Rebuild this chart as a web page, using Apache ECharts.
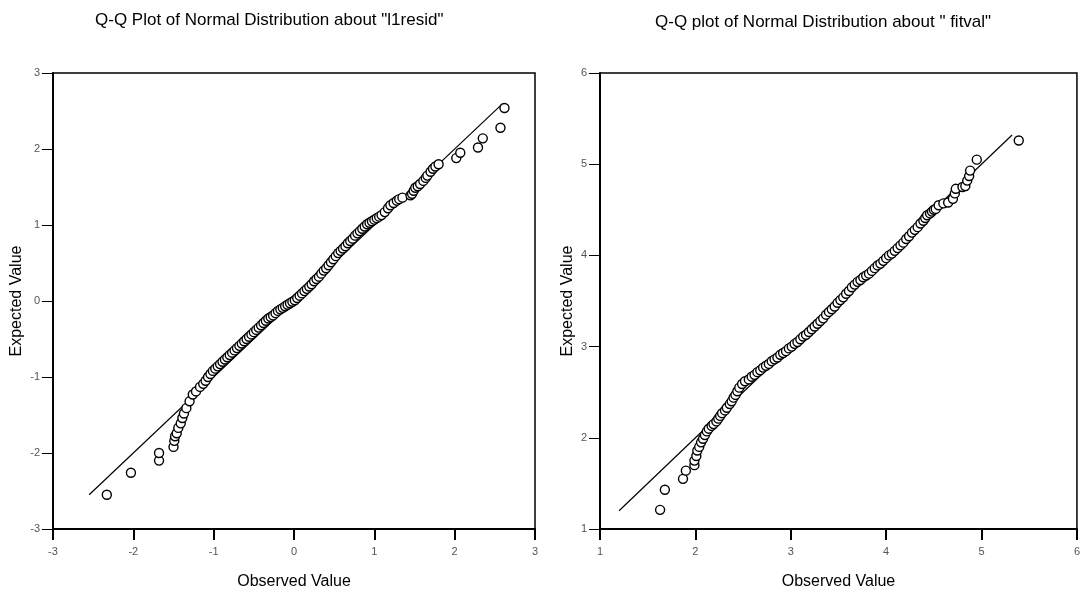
<!DOCTYPE html>
<html>
<head>
<meta charset="utf-8">
<script src="https://cdn.jsdelivr.net/npm/echarts@6/dist/echarts.min.js"></script>
<style>
  html, body { margin: 0; padding: 0; background: #fff; }
  #chart { width: 1083px; height: 595px; }
</style>
</head>
<body>
<div id="chart"></div>
<script>
// left panel: l1resid (observed / expected)
var residObs = [-2.33, -2.03, -1.68, -1.68, -1.50, -1.49, -1.48, -1.46, -1.44, -1.41, -1.39, -1.37, -1.34, -1.30,
  -1.26, -1.22, -1.17, -1.13,
  -1.10, -1.07, -1.04, -1.01, -0.98, -0.95, -0.92, -0.89, -0.86, -0.83,
  -0.80, -0.77, -0.74, -0.71, -0.68, -0.65, -0.62, -0.59, -0.56, -0.53,
  -0.50, -0.47, -0.44, -0.41, -0.38, -0.35, -0.32, -0.29, -0.26, -0.23,
  -0.20, -0.17, -0.14, -0.11, -0.08, -0.05, -0.02, 0.01, 0.04, 0.07,
  0.10, 0.13, 0.16, 0.19, 0.22, 0.25, 0.28, 0.31, 0.34, 0.37,
  0.40, 0.43, 0.46, 0.49, 0.52, 0.55, 0.58, 0.61, 0.64, 0.67,
  0.70, 0.73, 0.76, 0.79, 0.82, 0.85, 0.88, 0.91, 0.94, 0.97,
  1.00, 1.03, 1.06, 1.09,
  1.13, 1.17, 1.20, 1.24, 1.28, 1.31, 1.35, 1.45, 1.47, 1.49, 1.51, 1.54, 1.57, 1.61, 1.64, 1.66, 1.70, 1.73,
  1.76, 1.80, 2.02, 2.07, 2.29, 2.35, 2.57, 2.62];
var residExp = [-2.55, -2.26, -2.10, -2.00, -1.92, -1.84, -1.78, -1.74, -1.67, -1.61, -1.54, -1.48, -1.41, -1.32,
  -1.23, -1.19, -1.13, -1.09,
  -1.05, -1.00, -0.96, -0.92, -0.89, -0.86, -0.83, -0.80, -0.77, -0.74,
  -0.71, -0.68, -0.65, -0.62, -0.59, -0.56, -0.53, -0.50, -0.47, -0.44,
  -0.41, -0.38, -0.35, -0.32, -0.29, -0.26, -0.23, -0.21, -0.19, -0.16,
  -0.13, -0.11, -0.09, -0.07, -0.05, -0.03, -0.01, 0.01, 0.04, 0.07,
  0.10, 0.13, 0.16, 0.19, 0.22, 0.26, 0.29, 0.32, 0.36, 0.40,
  0.43, 0.47, 0.51, 0.55, 0.59, 0.63, 0.66, 0.69, 0.72, 0.76,
  0.79, 0.82, 0.86, 0.89, 0.92, 0.95, 0.98, 1.01, 1.03, 1.05,
  1.07, 1.09, 1.11, 1.13,
  1.17, 1.22, 1.26, 1.29, 1.32, 1.34, 1.36, 1.39, 1.41, 1.45, 1.49, 1.51, 1.54, 1.58, 1.62, 1.65, 1.70, 1.74,
  1.77, 1.80, 1.88, 1.95, 2.02, 2.14, 2.28, 2.54];
var residLine = [-2.55, 2.60];

// right panel: fitval
var fitObs = [1.63, 1.68, 1.87, 1.90, 1.99, 1.99, 2.01, 2.02, 2.04, 2.06, 2.08, 2.10, 2.12, 2.14, 2.17, 2.19,
  2.22, 2.24, 2.26, 2.28, 2.31, 2.33, 2.36, 2.38, 2.40, 2.42, 2.44, 2.46, 2.49, 2.52,
  2.56, 2.59, 2.62, 2.65, 2.68, 2.71, 2.74, 2.77, 2.80, 2.83,
  2.86, 2.89, 2.92, 2.95, 2.98, 3.01, 3.04, 3.07, 3.10, 3.13,
  3.16, 3.19, 3.22, 3.25, 3.28, 3.31, 3.34, 3.37, 3.40, 3.43,
  3.46, 3.49, 3.52, 3.55, 3.58, 3.61, 3.64, 3.67, 3.70, 3.73,
  3.76, 3.79, 3.82, 3.85, 3.88, 3.91, 3.94, 3.97, 4.00, 4.03,
  4.06, 4.09, 4.12, 4.15, 4.18, 4.21, 4.24, 4.27, 4.30, 4.33,
  4.36, 4.39, 4.41, 4.43, 4.46, 4.48, 4.50, 4.52, 4.55, 4.60,
  4.65, 4.70, 4.72, 4.73, 4.80, 4.83, 4.85, 4.87, 4.88, 4.95, 5.39];
var fitExp = [1.21, 1.43, 1.55, 1.64, 1.70, 1.75, 1.80, 1.86, 1.90, 1.95, 1.99, 2.03, 2.07, 2.10, 2.13, 2.15,
  2.18, 2.21, 2.24, 2.27, 2.30, 2.33, 2.37, 2.40, 2.44, 2.47, 2.51, 2.55, 2.59, 2.62,
  2.64, 2.67, 2.69, 2.72, 2.74, 2.77, 2.79, 2.81, 2.84, 2.86,
  2.88, 2.91, 2.93, 2.95, 2.98, 3.00, 3.03, 3.05, 3.08, 3.11,
  3.13, 3.16, 3.19, 3.22, 3.25, 3.28, 3.31, 3.35, 3.38, 3.41,
  3.44, 3.48, 3.51, 3.54, 3.58, 3.61, 3.65, 3.68, 3.71, 3.73,
  3.76, 3.78, 3.80, 3.83, 3.86, 3.89, 3.91, 3.94, 3.97, 4.00,
  4.02, 4.05, 4.08, 4.11, 4.14, 4.18, 4.21, 4.25, 4.28, 4.31,
  4.35, 4.38, 4.41, 4.44, 4.46, 4.48, 4.50, 4.51, 4.55, 4.57,
  4.58, 4.62, 4.68, 4.73, 4.75, 4.76, 4.82, 4.87, 4.93, 5.05, 5.26];
var fitLine = [1.20, 5.32];

var residTicks = [-3, 3, 1];
var fitTicks = [1, 6, 1];

function pairs(xs, ys) {
  return xs.map(function (x, i) { return [x, ys[i]]; });
}

var font = 'Liberation Sans, Arial, sans-serif';

function xAx(idx, t) {
  return {
    gridIndex: idx, type: 'value', min: t[0], max: t[1], interval: t[2],
    name: 'Observed Value', nameLocation: 'middle', nameGap: 45,
    nameTextStyle: { color: '#000', fontSize: 16, fontFamily: font },
    axisLine: { onZero: false, lineStyle: { color: '#000', width: 2 } },
    axisTick: { inside: false, length: 11, lineStyle: { color: '#000', width: 2 } },
    axisLabel: { color: '#555', fontSize: 11, margin: 17, fontFamily: font },
    splitLine: { show: false }
  };
}
function yAx(idx, t, gap) {
  return {
    gridIndex: idx, type: 'value', min: t[0], max: t[1], interval: t[2],
    name: 'Expected Value', nameLocation: 'middle', nameGap: gap,
    nameTextStyle: { color: '#000', fontSize: 16, fontFamily: font },
    axisLine: { onZero: false, lineStyle: { color: '#000', width: 2 } },
    axisTick: { inside: false, length: 11, lineStyle: { color: '#000', width: 1 } },
    axisLabel: { color: '#555', fontSize: 11, margin: 13, fontFamily: font },
    splitLine: { show: false }
  };
}
function dots(idx, xs, ys) {
  return {
    type: 'scatter', xAxisIndex: idx, yAxisIndex: idx, data: pairs(xs, ys),
    symbol: 'circle', symbolSize: 9,
    itemStyle: { color: '#fff', borderColor: '#000', borderWidth: 1.4, opacity: 1 },
    silent: true
  };
}
function diag(idx, l) {
  return {
    type: 'line', xAxisIndex: idx, yAxisIndex: idx, data: pairs(l, l),
    symbol: 'none', lineStyle: { color: '#000', width: 1.2 }, silent: true, z: 1
  };
}

var chart = echarts.init(document.getElementById('chart'));
chart.setOption({
  animation: false,
  backgroundColor: '#fff',
  title: [
    { text: 'Q-Q Plot of Normal Distribution about "l1resid"', left: 90, top: 7,
      textStyle: { fontSize: 17, fontWeight: 'normal', color: '#000', fontFamily: font } },
    { text: 'Q-Q plot of Normal Distribution about " fitval"', left: 650, top: 9,
      textStyle: { fontSize: 17, fontWeight: 'normal', color: '#000', fontFamily: font } }
  ],
  grid: [
    { left: 53, right: 548, top: 73, bottom: 61, show: true, borderColor: '#000', borderWidth: 1.5 },
    { left: 600, right: 1, top: 73, bottom: 61, show: true, borderColor: '#000', borderWidth: 1.5 }
  ],
  xAxis: [xAx(0, residTicks), xAx(1, fitTicks)],
  yAxis: [yAx(0, residTicks, 28), yAx(1, fitTicks, 24)],
  series: [
    diag(0, residLine),
    dots(0, residObs, residExp),
    diag(1, fitLine),
    dots(1, fitObs, fitExp)
  ]
});
</script>
</body>
</html>
